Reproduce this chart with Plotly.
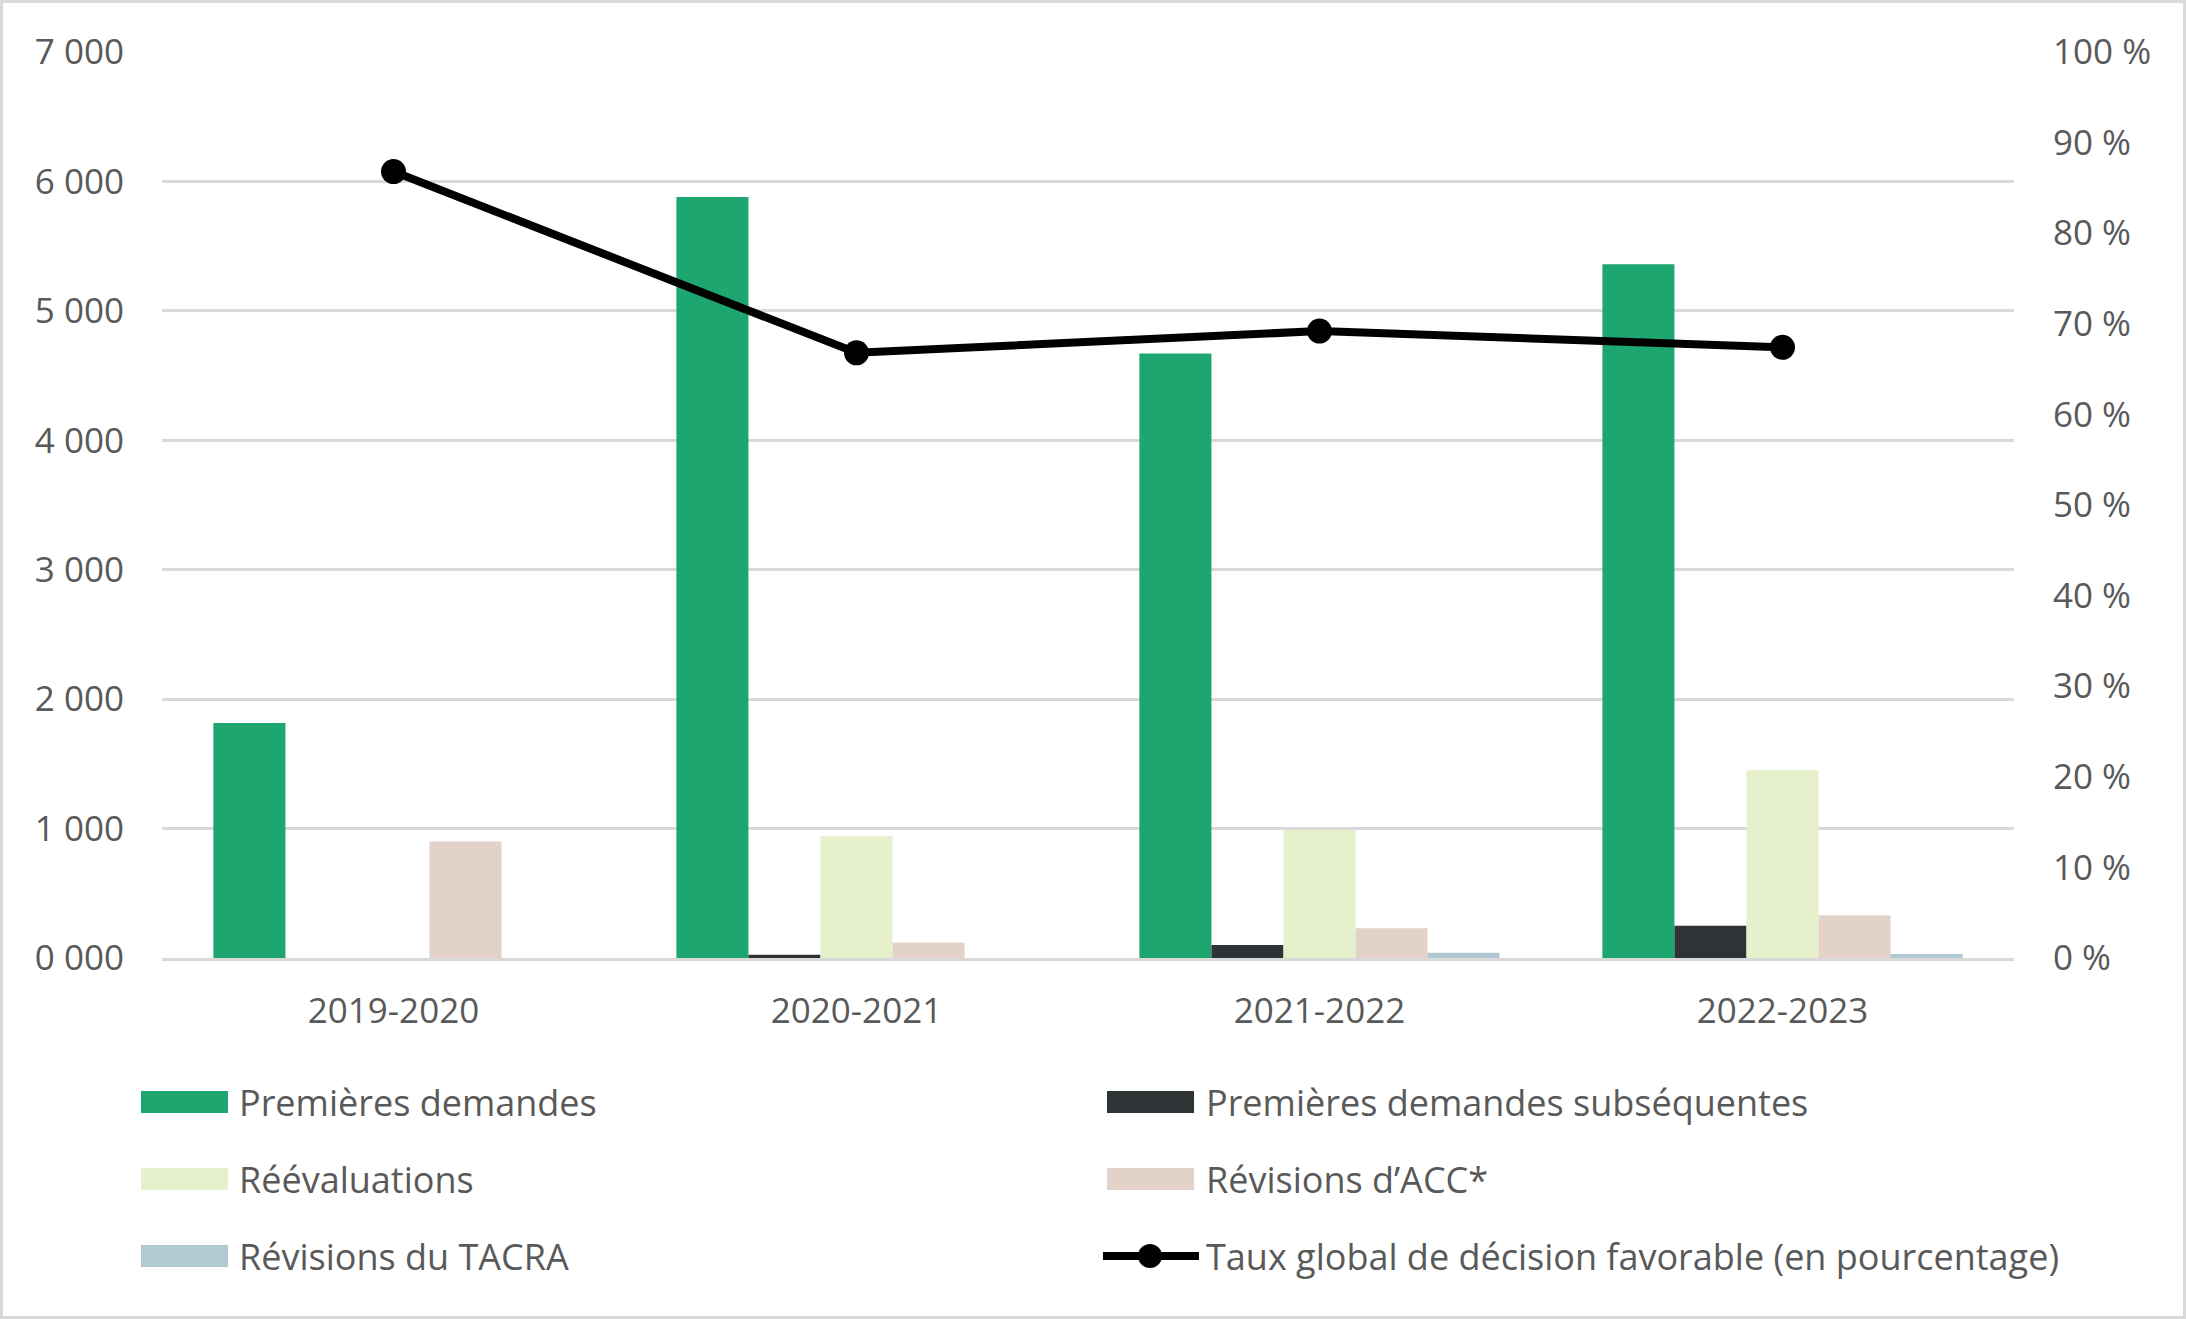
import plotly.graph_objects as go

# ---- data ----
years = ["2019-2020", "2020-2021", "2021-2022", "2022-2023"]
premieres = [1815, 5880, 4670, 5360]
subsequentes = [None, 25, 100, 250]
reevaluations = [None, 940, 990, 1450]
revisions_acc = [900, 120, 230, 330]
revisions_tacra = [None, None, 40, 30]
taux = [86.8, 66.8, 69.2, 67.4]

left_ticks = [0, 1000, 2000, 3000, 4000, 5000, 6000, 7000]
left_labels = ["0 000", "1 000", "2 000", "3 000", "4 000", "5 000", "6 000", "7 000"]
right_ticks = [0, 10, 20, 30, 40, 50, 60, 70, 80, 90, 100]
right_labels = ["0 %", "10 %", "20 %", "30 %", "40 %", "50 %", "60 %", "70 %", "80 %", "90 %", "100 %"]

bar_names = ["Premières demandes", "Premières demandes subséquentes", "Réévaluations",
             "Révisions d’ACC*", "Révisions du TACRA"]
line_name = "Taux global de décision favorable (en pourcentage)"
bar_values = [premieres, subsequentes, reevaluations, revisions_acc, revisions_tacra]
bar_colors = ["#1DA670", "#2E3436", "#E6F0CB", "#E3D2C7", "#B1C9D3"]

# ---- geometry ----
W, H = 2186, 1319
L, R, T, B = 162, 172, 52, 361
PW, PH = W - L - R, H - T - B
TXT = "#595959"
FONT = "Open Sans"


def px(x):
    return (x - L) / PW


def py(y):
    return (H - B - y) / PH


fig = go.Figure()
for name, vals, col in zip(bar_names, bar_values, bar_colors):
    fig.add_trace(go.Bar(x=years, y=vals, name=name, marker=dict(color=col, line=dict(width=0)),
                         showlegend=False))

fig.add_trace(go.Scatter(x=years, y=taux, name=line_name, yaxis="y2", mode="lines+markers",
                         line=dict(color="#000000", width=8),
                         marker=dict(color="#000000", size=25), showlegend=False))

shapes = []
annotations = []
# border
shapes.append(dict(type="rect", xref="paper", yref="paper",
                   x0=px(1.5), x1=px(W - 1.5), y0=py(H - 1.5), y1=py(1.5),
                   line=dict(color="#D9D9D9", width=3), fillcolor="rgba(0,0,0,0)", layer="below"))

# custom legend (two columns)
col_sym_x = [141, 1107]
col_txt_x = [237, 1204]
row_y = [1102, 1179, 1256]
entries = [(n, c) for n, c in zip(bar_names, bar_colors)] + [(line_name, None)]
for i, (name, col) in enumerate(entries):
    r, c = divmod(i, 2)
    yc = row_y[r]
    if col is not None:
        shapes.append(dict(type="rect", xref="paper", yref="paper",
                           x0=px(col_sym_x[c]), x1=px(col_sym_x[c] + 87),
                           y0=py(yc + 11), y1=py(yc - 11),
                           fillcolor=col, line=dict(width=0)))
    else:
        shapes.append(dict(type="line", xref="paper", yref="paper",
                           x0=px(1103), x1=px(1199), y0=py(yc), y1=py(yc),
                           line=dict(color="#000000", width=8)))
        shapes.append(dict(type="circle", xref="paper", yref="paper",
                           x0=px(1138), x1=px(1162), y0=py(yc + 12), y1=py(yc - 12),
                           fillcolor="#000000", line=dict(width=0)))
    annotations.append(dict(xref="paper", yref="paper", x=px(col_txt_x[c]), y=py(yc),
                            xanchor="left", yanchor="middle", text=name, showarrow=False,
                            font=dict(family=FONT, size=36, color=TXT)))

fig.update_layout(
    width=W, height=H,
    margin=dict(l=L, r=R, t=T, b=B, pad=0),
    paper_bgcolor="white", plot_bgcolor="white",
    barmode="group", bargap=0.222, bargroupgap=0,
    showlegend=False,
    font=dict(family=FONT, size=35, color=TXT),
    xaxis=dict(type="category", showgrid=False, showline=True, linecolor="#D9D9D9", linewidth=3,
               ticks="outside", ticklen=20, tickcolor="rgba(0,0,0,0)",
               tickfont=dict(family=FONT, size=35, color=TXT)),
    yaxis=dict(range=[0, 7000], tickvals=left_ticks, ticktext=left_labels,
               showgrid=True, gridcolor="#D9D9D9", gridwidth=2.5, zeroline=False, showline=False,
               ticks="outside", ticklen=30, tickcolor="rgba(0,0,0,0)",
               tickfont=dict(family=FONT, size=35, color=TXT)),
    yaxis2=dict(range=[0, 100], tickvals=right_ticks, ticktext=right_labels, overlaying="y",
                side="right", showgrid=False, zeroline=False, showline=False,
                ticks="outside", ticklen=31, tickcolor="rgba(0,0,0,0)",
                tickfont=dict(family=FONT, size=35, color=TXT)),
    shapes=shapes,
    annotations=annotations,
)

fig.write_html("out.html", config={"displayModeBar": False},
               post_script="document.body.style.margin='0';document.body.style.overflow='hidden';")
